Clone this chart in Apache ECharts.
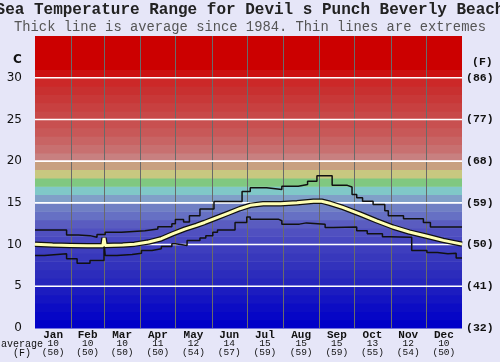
<!DOCTYPE html>
<html>
<head>
<meta charset="utf-8">
<script src="https://cdn.jsdelivr.net/npm/echarts@6/dist/echarts.min.js"></script>
<style>
html,body{margin:0;padding:0;background:#e6e6f8;}
#c{width:500px;height:362px;}
</style>
</head>
<body>
<div id="c"></div>
<script>
// ---- data ----
const months = ['Jan','Feb','Mar','Apr','May','Jun','Jul','Aug','Sep','Oct','Nov','Dec'];
const monthAvgC = ['10','10','10','11','12','14','15','15','15','13','12','10'];
const monthAvgF = ['(50)','(50)','(50)','(50)','(54)','(57)','(59)','(59)','(59)','(55)','(54)','(50)'];
const monthStartDays = [0,31,59,90,120,151,181,212,243,273,304,334,365];
const cTicks = [0,5,10,15,20,25,30];
const fTicks = ['(32)','(41)','(50)','(59)','(68)','(77)','(86)'];

// [dayOfYear, °C]
const avgTemp = [[0,10.05],[15,9.95],[30,9.9],[45,9.85],[58,9.85],[59,10.8],[60,9.9],[75,9.95],[85,10.05],[97,10.3],[108,10.7],[118,11.3],[128,11.85],[138,12.3],[145,12.65],[155,13.2],[165,13.75],[175,14.3],[184,14.7],[195,14.9],[210,14.9],[224,15.0],[238,15.2],[245,15.2],[252,14.95],[263,14.45],[278,13.65],[292,12.85],[306,12.1],[320,11.5],[335,11.0],[349,10.5],[365,10.05]];
const maxTemp = [[0,11.75],[27,11.15],[37,11.07],[47,10.87],[53,11.2],[60,11.47],[74,11.67],[94,11.87],[105,12.14],[117,12.5],[120,13.0],[127,12.7],[132,13.45],[141,14.25],[153,15.15],[177,16.35],[184,16.8],[198,16.6],[211,17.0],[225,17.2],[233,17.6],[241,18.25],[254,17.1],[267,16.9],[271,16.0],[275,15.6],[280,15.2],[289,14.8],[299,14.05],[302,13.45],[315,13.1],[332,12.65],[338,12.1],[365,12.1]];
const minTemp = [[0,8.69],[8,8.9],[27,8.3],[36,7.77],[47,8.1],[59,10.3],[60,8.69],[70,8.8],[83,8.97],[91,9.3],[100,9.5],[108,9.76],[117,10.1],[120,9.88],[130,10.48],[141,10.8],[146,11.07],[152,11.47],[156,11.75],[171,12.65],[181,13.3],[184,13.05],[208,12.85],[211,12.45],[226,12.6],[232,12.45],[248,12.06],[255,12.1],[275,11.67],[284,11.3],[297,10.95],[303,10.87],[322,9.3],[335,9.05],[344,8.9],[353,8.95],[360,8.4],[365,8.4]];

// ---- styles ----
const bandColors = ['#0000c8','#0606c6','#0c0cc4','#1414c2','#1c1cc0','#2626bc','#2c2cbc','#3232bc','#3838bc','#3e3ebe',
  '#4848c0','#5050c0','#5a5cc0','#6670c4','#7080c4','#80a0c8','#80c8c8','#80c880','#c8c880','#c8a080',
  '#c88080','#c87070','#c86464','#c85858','#c85050','#c84848','#c84040','#c83838','#c83030','#cc2828',
  '#cc1010','#cc0000','#cc0000','#cc0000','#cc0000'];
const bands = bandColors.map((c,i)=>[i,i+1]);
const monthMid = months.map((m,i)=>(monthStartDays[i]+monthStartDays[i+1])/2);
const innerBounds = monthStartDays.slice(1,-1).map(d=>[d]);
const whiteLines = cTicks.slice(1).map(v=>[v]);
const mono = 'Liberation Mono';

const chart = echarts.init(document.getElementById('c'), null, {renderer:'canvas'});
chart.setOption({
  animation:false,
  backgroundColor:'#e6e6f8',
  title:[
    {text:'Sea Temperature Range for Devil s Punch Beverly Beach', left:'center', top:2, padding:0,
     textStyle:{fontFamily:mono, fontWeight:'bold', fontSize:16, color:'#222'}},
    {text:'Thick line is average since 1984. Thin lines are extremes', left:'center', top:20, padding:0,
     textStyle:{fontFamily:mono, fontWeight:'normal', fontSize:13.8, color:'#555'}}
  ],
  grid:{left:35, right:38, top:36, bottom:34},
  xAxis:{type:'value', min:0, max:365,
    axisLine:{show:false}, axisTick:{show:false}, splitLine:{show:false},
    axisLabel:{customValues:monthMid, margin:2, interval:0,
      formatter:(v)=>{const i=monthMid.indexOf(v); return i<0?'':'{m|'+months[i]+'}\n{c|'+monthAvgC[i]+'}\n{f|'+monthAvgF[i]+'}';},
      rich:{
        m:{fontFamily:mono, fontWeight:'bold', fontSize:11, lineHeight:9.5, color:'#111'},
        c:{fontFamily:mono, fontSize:9.5, lineHeight:8.5, color:'#111'},
        f:{fontFamily:mono, fontSize:9.5, lineHeight:9.5, color:'#111'}
      }}
  },
  yAxis:[
    {type:'value', min:0, max:35, interval:5, position:'left',
     axisLine:{show:false}, axisTick:{show:false}, splitLine:{show:false},
     axisLabel:{margin:13, fontFamily:'DejaVu Sans', fontSize:12, color:'#111',
       formatter:(v)=> cTicks.indexOf(v)>=0 ? String(v) : ''}},
    {type:'value', min:0, max:35, interval:5, position:'right',
     axisLine:{show:false}, axisTick:{show:false}, splitLine:{show:false},
     axisLabel:{margin:4, fontFamily:mono, fontWeight:'bold', fontSize:11.5, color:'#111',
       formatter:(v)=> { const i=cTicks.indexOf(v); return i>=0 ? fTicks[i] : ''; }}}
  ],
  graphic:[
    {type:'text', left:13, top:54, style:{text:'C', font:'bold 12px "DejaVu Sans"', fill:'#111'}},
    {type:'text', left:472, top:56, style:{text:'(F)', font:'bold 11.5px "Liberation Mono"', fill:'#111'}},
    {type:'text', left:1, top:339, style:{text:'average', font:'10px "Liberation Mono"', fill:'#111'}},
    {type:'text', left:13, top:348, style:{text:'(F)', font:'10px "Liberation Mono"', fill:'#111'}}
  ],
  series:[
    {type:'custom', z:1, silent:true, data:bands, encode:{y:[0,1]},
     renderItem:(p,api)=>{
       const lo=api.value(0), hi=api.value(1);
       const a=api.coord([0,hi]), b=api.coord([365,lo]);
       return {type:'rect', shape:{x:a[0], y:a[1], width:b[0]-a[0], height:b[1]-a[1]+0.6},
               style:{fill:bandColors[lo]}};
     }},
    {type:'custom', z:2, silent:true, data:innerBounds, encode:{x:0},
     renderItem:(p,api)=>{
       const d=api.value(0);
       const a=api.coord([d,35]), b=api.coord([d,0]);
       return {type:'line', shape:{x1:Math.round(a[0])+0.5, y1:a[1], x2:Math.round(a[0])+0.5, y2:b[1]},
               style:{stroke:'#6a6a6a', lineWidth:1}};
     }},
    {type:'custom', z:2, silent:true, data:whiteLines, encode:{y:0},
     renderItem:(p,api)=>{
       const v=api.value(0);
       const a=api.coord([0,v]), b=api.coord([365,v]);
       return {type:'line', shape:{x1:a[0], y1:a[1], x2:b[0], y2:b[1]},
               style:{stroke:'#ffffff', lineWidth:1.6}};
     }},
    {type:'line', z:3, data:maxTemp, step:'end', symbol:'none', silent:true,
     lineStyle:{color:'#111', width:1.5}},
    {type:'line', z:3, data:minTemp, step:'end', symbol:'none', silent:true,
     lineStyle:{color:'#111', width:1.5}},
    {type:'line', z:4, data:avgTemp, symbol:'none', silent:true,
     lineStyle:{color:'#111', width:5.5}},
    {type:'line', z:5, data:avgTemp, symbol:'none', silent:true,
     lineStyle:{color:'#ffffb4', width:3}}
  ]
});
</script>
</body>
</html>
